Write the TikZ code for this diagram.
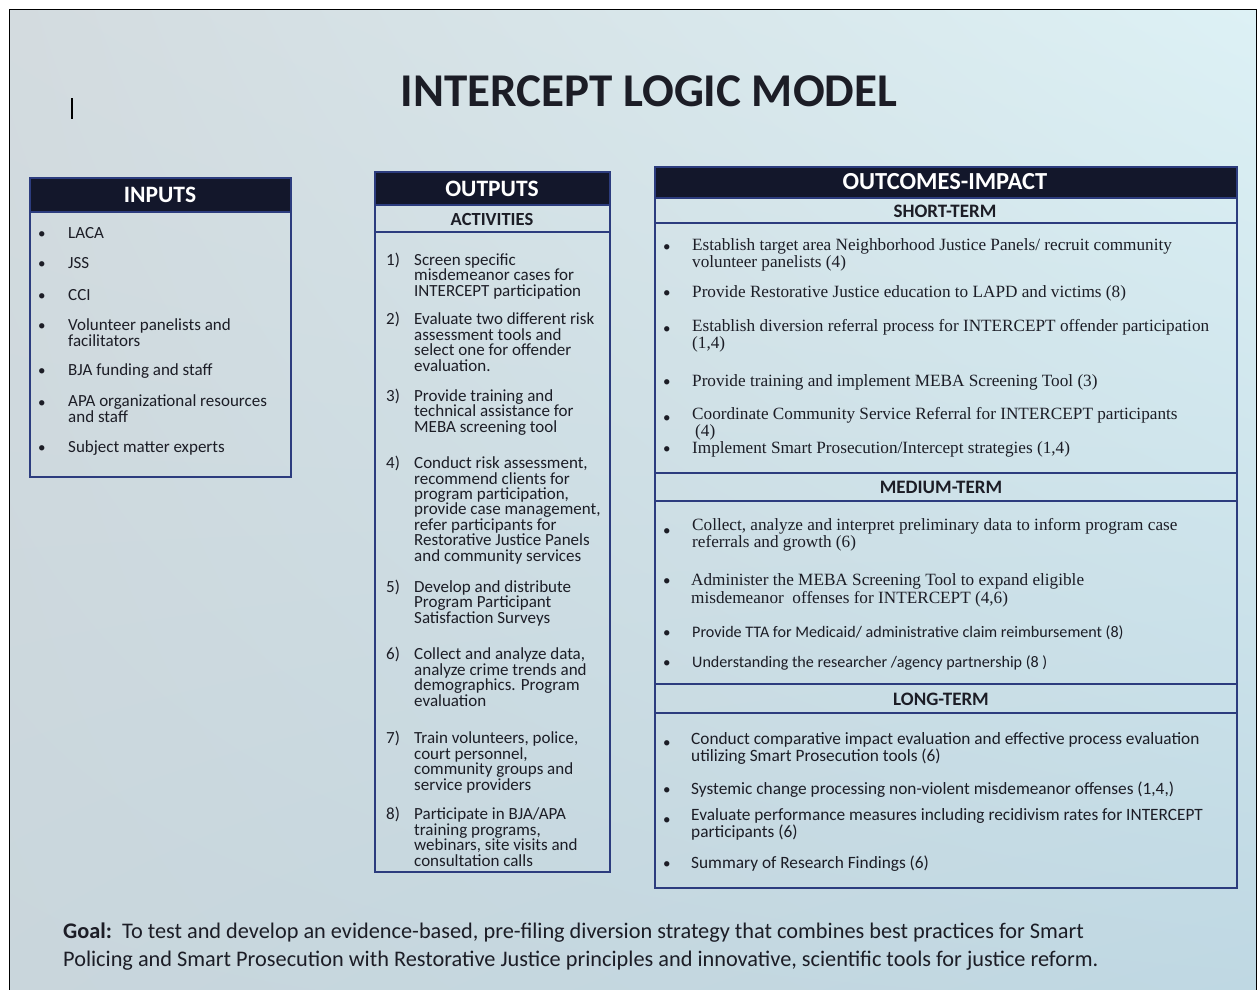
\documentclass[tikz,border=0pt]{standalone}
\usepackage{fontspec}
\usetikzlibrary{shadings}
\setmainfont{Carlito}
\newfontfamily\romanitem{Liberation Serif}
\definecolor{navy}{HTML}{13172B}
\definecolor{boxblue}{HTML}{2C3C7E}
\definecolor{slideUL}{HTML}{D3DBDF}
\definecolor{slideUR}{HTML}{DDF1F5}
\definecolor{slideLL}{HTML}{C9D6DC}
\definecolor{slideLR}{HTML}{BFD8E3}
\definecolor{ink}{HTML}{1C1D26}
\newcommand\actno[1]{\makebox[28pt][l]{#1}}
\newcommand\actin{\hspace*{28pt}}

\tikzset{
  box/.style={draw=boxblue, line width=1.4pt},
  headbar/.style={fill=navy, draw=boxblue, line width=1.4pt},
  head/.style={text=white, inner sep=0pt, font=\fontsize{23.5}{24}\selectfont\bfseries},
  subhead/.style={text=ink, inner sep=0pt, font=\fontsize{19}{19}\selectfont\bfseries},
  item/.style={anchor=base west, inner sep=0pt, text=ink, align=left, font=\fontsize{17}{15.4}\selectfont},
  ritem/.style={anchor=base west, inner sep=0pt, text=ink, align=left, font=\romanitem\fontsize{17.2}{15}\selectfont},
  mitem/.style={anchor=base west, inner sep=0pt, text=ink, align=left, font=\fontsize{16.1}{14}\selectfont},
  litem/.style={anchor=base west, inner sep=0pt, text=ink, align=left, font=\fontsize{17.3}{13.3}\selectfont},
  dot/.style={anchor=base west, inner sep=0pt, text=ink, font=\fontsize{15}{15}\selectfont}
}

\begin{document}
\begin{tikzpicture}[x=1pt, y=-1pt]
\useasboundingbox (0,0) rectangle (1258,990);
\fill[white] (0,0) rectangle (1258,990);
\shade[upper left=slideUL, upper right=slideUR, lower left=slideLL, lower right=slideLR] (9,10) rectangle (1256,990);
\draw[black, line width=1pt] (9,990) -- (9,10) -- (1256,10) -- (1256,990);
\draw[black, line width=1.2pt] (72,98) -- (72,119);

\node[inner sep=0pt, anchor=base, text=ink, font=\fontsize{47}{47}\selectfont\bfseries] (title) at (649,106) {INTERCEPT LOGIC MODEL};

% inputs
\draw[box] (30,178) rectangle (291,477);
\draw[headbar] (30,178) rectangle (291,212);
\node[head] (inputs) at (160,195) {INPUTS};
\foreach \y in {238,268,300,330,375,407,452}
  \node[dot] at (38,\y) {\textbullet};
\node[item] (laca) at (68,238) {LACA};
\node[item] (jss) at (68,268) {JSS};
\node[item] (cci) at (68,300) {CCI};
\node[item] (volunteer) at (68,346) {Volunteer panelists and\\facilitators};
\node[item] (bja) at (68,375) {BJA funding and staff};
\node[item] (apa) at (68,422) {APA organizational resources\\and staff};
\node[item] (experts) at (68,452) {Subject matter experts};

% outputs
\draw[box] (375,172) rectangle (610,872);
\draw[headbar] (375,172) rectangle (610,205);
\draw[box] (375,232) -- (610,232);
\node[head] (outputs) at (492,189) {OUTPUTS};
\node[subhead, font=\fontsize{18.5}{18.5}\selectfont\bfseries] (activities) at (492,219) {ACTIVITIES};
\node[item] (act1) at (386,296) {\actno{1)}Screen specific\\\actin misdemeanor cases for\\\actin INTERCEPT participation};
\node[item] (act2) at (386,371) {\actno{2)}Evaluate two different risk\\\actin assessment tools and\\\actin select one for offender\\\actin evaluation.};
\node[item] (act3) at (386,432) {\actno{3)}Provide training and\\\actin technical assistance for\\\actin MEBA screening tool};
\node[item] (act4) at (386,561) {\actno{4)}Conduct risk assessment,\\\actin recommend clients for\\\actin program participation,\\\actin provide case management,\\\actin refer participants for\\\actin Restorative Justice Panels\\\actin and community services};
\node[item] (act5) at (386,623) {\actno{5)}Develop and distribute\\\actin Program Participant\\\actin Satisfaction Surveys};
\node[item] (act6) at (386,706) {\actno{6)}Collect and analyze data,\\\actin analyze crime trends and\\\actin demographics. Program\\\actin evaluation};
\node[item] (act7) at (386,790) {\actno{7)}Train volunteers, police,\\\actin court personnel,\\\actin community groups and\\\actin service providers};
\node[item] (act8) at (386,866) {\actno{8)}Participate in BJA/APA\\\actin training programs,\\\actin webinars, site visits and\\\actin consultation calls};

% outcomes
\draw[box] (655,167) rectangle (1237,888);
\draw[headbar] (655,167) rectangle (1237,198);
\draw[box] (655,223) -- (1237,223);
\draw[box] (655,473) -- (1237,473);
\draw[box] (655,501) -- (1237,501);
\draw[box] (655,684) -- (1237,684);
\draw[box] (655,713) -- (1237,713);
\node[head, font=\fontsize{24.5}{24.5}\selectfont\bfseries] (outcomes) at (945,182) {OUTCOMES-IMPACT};
\node[subhead] (short) at (945,211) {SHORT-TERM};
\node[subhead] (medium) at (941,487) {MEDIUM-TERM};
\node[subhead] (long) at (941,699) {LONG-TERM};

\foreach \y in {251,297,333,386,422,453,535,585,637,667,747,794,824,868}
  \node[dot] at (663,\y) {\textbullet};

\node[ritem] (st1) at (692,267) {Establish target area Neighborhood Justice Panels/ recruit community\\volunteer panelists (4)};
\node[ritem] (st2) at (692,297) {Provide Restorative Justice education to LAPD and victims (8)};
\node[ritem] (st3) at (692,348) {Establish diversion referral process for INTERCEPT offender participation\\(1,4)};
\node[ritem] (st4) at (692,386) {Provide training and implement MEBA Screening Tool (3)};
\node[ritem, font=\romanitem\fontsize{17.2}{14}\selectfont] (st5) at (692,436) {Coordinate Community Service Referral for INTERCEPT participants\\\hspace*{3pt}(4)};
\node[ritem] (st6) at (692,453) {Implement Smart Prosecution/Intercept strategies (1,4)};

\node[ritem, font=\romanitem\fontsize{17.2}{12.5}\selectfont] (mt1) at (692,547) {Collect, analyze and interpret preliminary data to inform program case\\referrals and growth (6)};
\node[ritem, font=\romanitem\fontsize{17.2}{18}\selectfont] (mt2) at (691,603) {Administer the MEBA Screening Tool to expand eligible\\misdemeanor\ \ offenses for INTERCEPT (4,6)};
\node[mitem] (mt3) at (692,637) {Provide TTA for Medicaid/ administrative claim reimbursement (8)};
\node[mitem] (mt4) at (692,667) {Understanding the researcher /agency partnership (8 )};

\node[litem] (lt1) at (691,761) {Conduct comparative impact evaluation and effective process evaluation\\utilizing Smart Prosecution tools (6)};
\node[litem] (lt2) at (691,794) {Systemic change processing non-violent misdemeanor offenses (1,4,)};
\node[litem] (lt3) at (691,837) {Evaluate performance measures including recidivism rates for INTERCEPT\\participants (6)};
\node[litem] (lt4) at (691,868) {Summary of Research Findings (6)};

% goal
\node[anchor=base west, inner sep=0pt, text=ink, align=left, font=\fontsize{22.3}{28}\selectfont] (goal) at (63,966)
  {\textbf{Goal:}\ \ To test and develop an evidence-based, pre-filing diversion strategy that combines best practices for Smart\\
   Policing and Smart Prosecution with Restorative Justice principles and innovative, scientific tools for justice reform.};
\end{tikzpicture}
\end{document}
